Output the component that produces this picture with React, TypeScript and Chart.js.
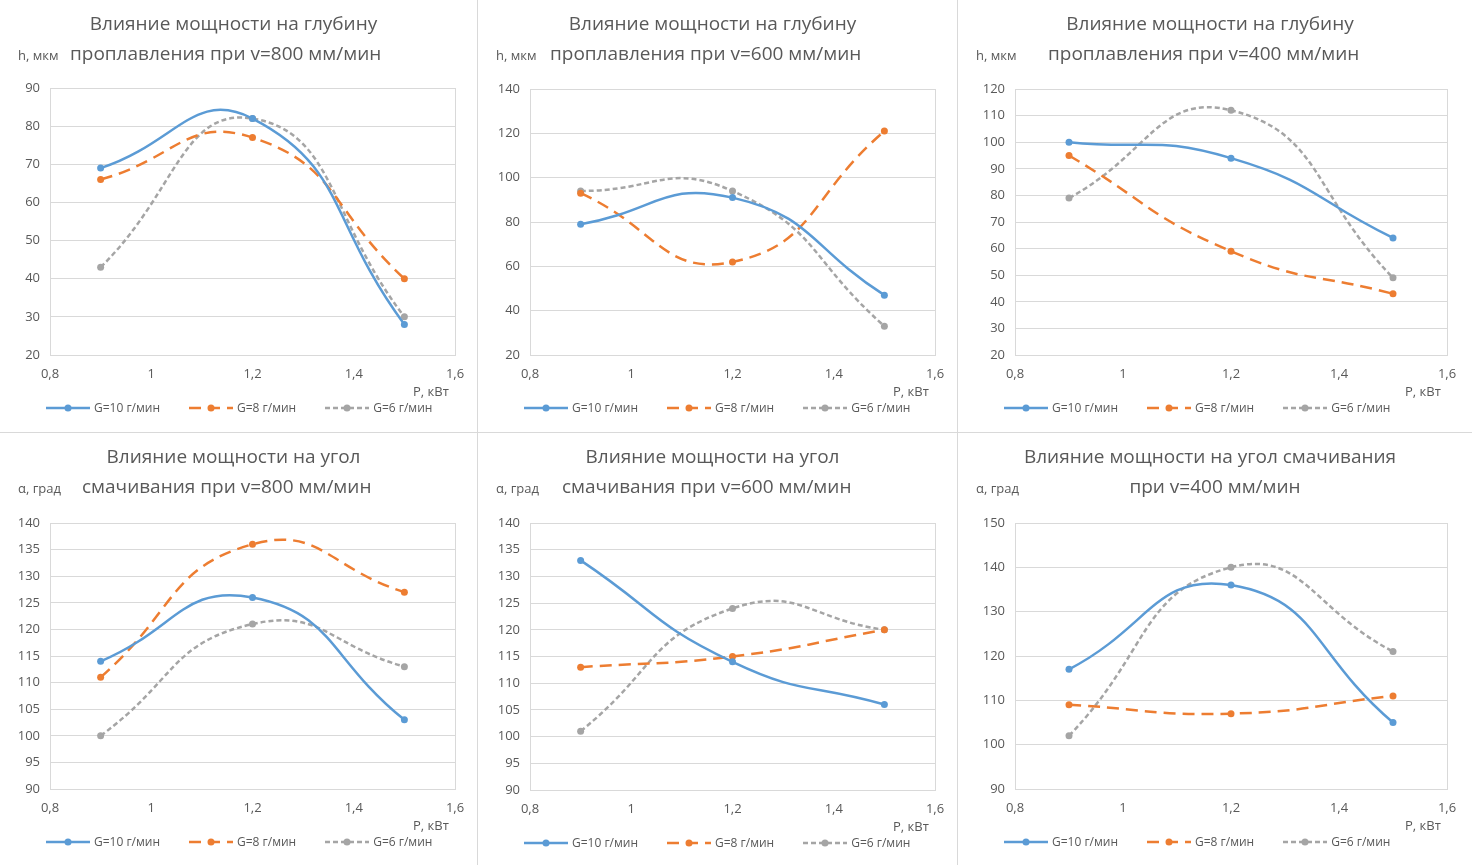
import React, { useEffect, useRef } from "react";
import { Chart, registerables } from "chart.js";
Chart.register(...registerables);

const xValues = [0.9, 1.2, 1.5];
const xTicks = [0.8, 1, 1.2, 1.4, 1.6];
const seriesNames = ["G=10 г/мин", "G=8 г/мин", "G=6 г/мин"];

const d800 = [[69, 82, 28], [66, 77, 40], [43, 82, 30]];
const d600 = [[79, 91, 47], [93, 62, 121], [94, 94, 33]];
const d400 = [[100, 94, 64], [95, 59, 43], [79, 112, 49]];
const a800 = [[114, 126, 103], [111, 136, 127], [100, 121, 113]];
const a600 = [[133, 114, 106], [113, 115, 120], [101, 124, 120]];
const a400 = [[117, 136, 105], [109, 107, 111], [102, 140, 121]];

const colors = ["#5b9bd5", "#ed7d31", "#a5a5a5"];
const dashes = [[], [12, 7], [5, 3]];
const txt = "#595959";
const font = "'Open Sans', sans-serif";

type P = {
  data: number[][]; min: number; max: number; step: number;
  w: number; h: number; left: number; right: number; top: number; bottom: number;
  t1: string; t2: string; t2left: number | null; axisLabel: string;
};

const boxPlugin = {
  id: "box",
  beforeDatasetsDraw(c: any) {
    const a = c.chartArea, ctx = c.ctx;
    ctx.save(); ctx.strokeStyle = "#d9d9d9"; ctx.lineWidth = 1;
    ctx.strokeRect(Math.round(a.left) + 0.5, Math.round(a.top) + 0.5, Math.round(a.right - a.left), Math.round(a.bottom - a.top));
    ctx.restore();
  },
};

function Panel(p: P) {
  const ref = useRef<HTMLCanvasElement>(null);
  useEffect(() => {
    const c = new Chart(ref.current!, {
      type: "line",
      data: {
        datasets: p.data.map((s, i) => ({
          label: seriesNames[i],
          data: s.map((y, j) => ({ x: xValues[j], y })),
          borderColor: colors[i], backgroundColor: colors[i],
          borderWidth: 2.5, borderDash: dashes[i], tension: 0.5,
          pointRadius: 3.5, pointBorderWidth: 0,
        })),
      },
      options: {
        animation: false, responsive: false, maintainAspectRatio: false,
        layout: { padding: { left: p.left - 40, right: p.w - p.right, top: p.top, bottom: p.h - p.bottom - 25 } },
        plugins: { legend: { display: false }, tooltip: { enabled: false } },
        scales: {
          x: {
            type: "linear", min: 0.8, max: 1.6,
            afterBuildTicks: (s: any) => { s.ticks = xTicks.map((v) => ({ value: v })); },
            afterFit: (s: any) => { s.height = 25; },
            grid: { display: false }, border: { display: false },
            ticks: { color: txt, font: { family: font, size: 13 }, callback: (v: any) => String(v).replace(".", ",") },
          },
          y: {
            min: p.min, max: p.max,
            afterFit: (s: any) => { s.width = 40; },
            grid: { color: "#d9d9d9", drawTicks: false }, border: { display: false },
            ticks: { stepSize: p.step, color: txt, padding: 10, font: { family: font, size: 13 } },
          },
        },
      } as any,
      plugins: [boxPlugin],
    });
    return () => c.destroy();
  }, []);
  return (
    <div style={{ position: "relative", width: p.w, height: p.h, fontFamily: font, color: txt }}>
      <canvas ref={ref} width={p.w} height={p.h} style={{ position: "absolute", left: 0, top: 0 }} />
      <div style={{ position: "absolute", top: 10, left: 0, width: p.w - 10, textAlign: "center", fontSize: 19 }}>{p.t1}</div>
      <div style={{ position: "absolute", top: 40, left: p.t2left ?? 0, width: p.t2left == null ? p.w : undefined, textAlign: p.t2left == null ? "center" : "left", fontSize: 19, whiteSpace: "nowrap" }}>{p.t2}</div>
      <div style={{ position: "absolute", top: 46, left: 18, fontSize: 13 }}>{p.axisLabel}</div>
      <div style={{ position: "absolute", top: p.bottom + 27, left: p.right - 42, fontSize: 13 }}>P, кВт</div>
      <div style={{ position: "absolute", top: p.bottom + 44, left: 45, display: "flex", fontSize: 12 }}>
        {seriesNames.map((n, i) => (
          <div key={i} style={{ display: "flex", alignItems: "center", marginRight: 28 }}>
            <svg width={46} height={10}>
              <line x1={1} y1={5} x2={45} y2={5} stroke={colors[i]} strokeWidth={2.5} strokeDasharray={dashes[i].join(" ")} />
              <circle cx={23} cy={5} r={3.5} fill={colors[i]} />
            </svg>
            <span style={{ marginLeft: 3 }}>{n}</span>
          </div>
        ))}
      </div>
    </div>
  );
}

export default function App() {
  const row1 = 432, row2 = 433;
  const cols = [478, 480, 514];
  const pan: P[] = [
    { data: d800, min: 20, max: 90, step: 10, w: cols[0], h: row1, left: 50, right: 455, top: 88, bottom: 355, t1: "Влияние мощности на глубину", t2: "проплавления при v=800 мм/мин", t2left: 70, axisLabel: "h, мкм" },
    { data: d600, min: 20, max: 140, step: 20, w: cols[1], h: row1, left: 52, right: 457, top: 89, bottom: 355, t1: "Влияние мощности на глубину", t2: "проплавления при v=600 мм/мин", t2left: 72, axisLabel: "h, мкм" },
    { data: d400, min: 20, max: 120, step: 10, w: cols[2], h: row1, left: 57, right: 489, top: 89, bottom: 355, t1: "Влияние мощности на глубину", t2: "проплавления при v=400 мм/мин", t2left: 90, axisLabel: "h, мкм" },
    { data: a800, min: 90, max: 140, step: 5, w: cols[0], h: row2, left: 50, right: 455, top: 90, bottom: 356, t1: "Влияние мощности на угол", t2: "смачивания при v=800 мм/мин", t2left: 82, axisLabel: "α, град" },
    { data: a600, min: 90, max: 140, step: 5, w: cols[1], h: row2, left: 52, right: 457, top: 90, bottom: 357, t1: "Влияние мощности на угол", t2: "смачивания при v=600 мм/мин", t2left: 84, axisLabel: "α, град" },
    { data: a400, min: 90, max: 150, step: 10, w: cols[2], h: row2, left: 57, right: 489, top: 90, bottom: 356, t1: "Влияние мощности на угол смачивания", t2: "при v=400 мм/мин", t2left: null, axisLabel: "α, град" },
  ];
  const sep = "1px solid #d9d9d9";
  return (
    <div style={{ position: "absolute", left: 0, top: 0, width: 1472, height: 865, background: "#fff" }}>
      {[0, 1].map((r) => (
        <div key={r} style={{ display: "flex", borderBottom: r === 0 ? sep : "none" }}>
          {[0, 1, 2].map((c) => (
            <div key={c} style={{ borderRight: c < 2 ? sep : "none" }}>
              <Panel {...pan[r * 3 + c]} w={pan[r * 3 + c].w - (c < 2 ? 1 : 0)} />
            </div>
          ))}
        </div>
      ))}
    </div>
  );
}
